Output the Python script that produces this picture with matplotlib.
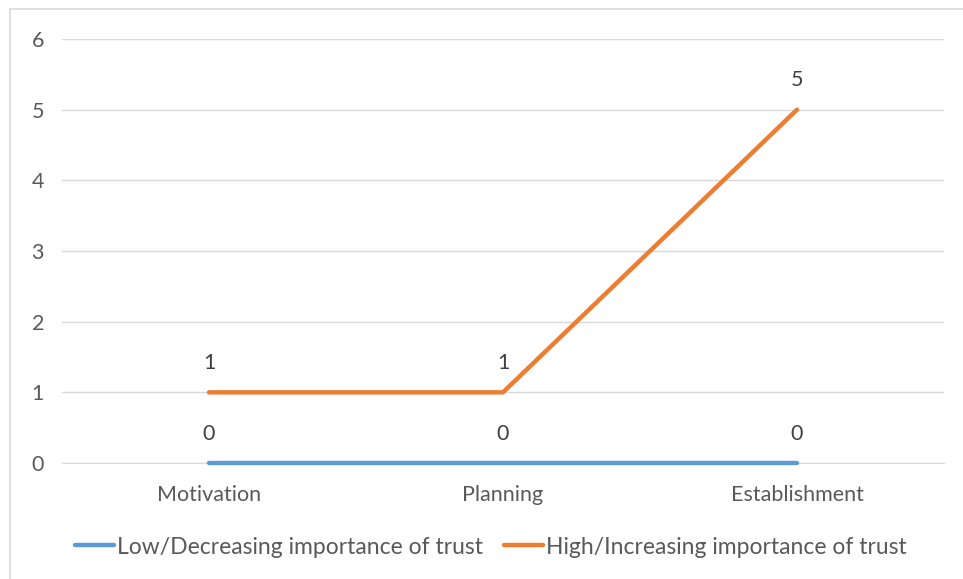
import matplotlib.pyplot as plt
from matplotlib.lines import Line2D

plt.rcParams['font.family'] = ['Lato', 'DejaVu Sans']

stages = ['Motivation', 'Planning', 'Establishment']
low_trust = [0, 0, 0]
high_trust = [1, 1, 5]
series_names = ['Low/Decreasing importance of trust',
                'High/Increasing importance of trust']

blue = '#5B9BD5'
orange = '#ED7D31'
text_col = '#595959'
grid_col = '#D9D9D9'
fs = 15.5

fig = plt.figure(figsize=(9.63, 5.79), dpi=100)
ax = fig.add_axes([62 / 963, 116 / 579, 882 / 963, 424 / 579])

x = range(len(stages))
ax.plot(x, low_trust, color=blue, lw=3.2, solid_capstyle='round', zorder=3, clip_on=False)
ax.plot(x, high_trust, color=orange, lw=3.2, solid_capstyle='round',
        solid_joinstyle='round', zorder=3, clip_on=False)

# value labels above each point
for ys in (low_trust, high_trust):
    for xi, yi in zip(x, ys):
        ax.annotate(str(yi), (xi, yi), xytext=(0, 14), textcoords='offset points',
                    ha='center', va='bottom', fontsize=fs, color='#404040')

ax.set_xlim(-0.5, len(stages) - 0.5)
ax.set_ylim(0, 6)
ax.set_yticks(range(0, 7))
ax.set_xticks(list(x))
ax.set_xticklabels(stages)
ax.tick_params(axis='both', length=0, labelsize=fs, colors=text_col)
ax.tick_params(axis='y', pad=13)
ax.tick_params(axis='x', pad=16)
ax.yaxis.grid(True, color=grid_col, lw=1)
ax.set_axisbelow(True)
for s in ax.spines.values():
    s.set_visible(False)
ax.spines['bottom'].set_visible(True)
ax.spines['bottom'].set_color(grid_col)

handles = [Line2D([], [], color=blue, lw=3.2, solid_capstyle='round'),
           Line2D([], [], color=orange, lw=3.2, solid_capstyle='round')]
fig.legend(handles, series_names, loc='center', bbox_to_anchor=(491 / 963, 1 - 547 / 579),
           ncol=2, frameon=False, fontsize=16.5, handlelength=1.7, handletextpad=0.15,
           columnspacing=0.9, labelcolor=text_col)

# chart area border (top and left edges)
fig.add_artist(Line2D([10 / 963, 10 / 963], [0, 1 - 9 / 579], color=grid_col, lw=1.2,
                      transform=fig.transFigure))
fig.add_artist(Line2D([10 / 963, 1], [1 - 9 / 579, 1 - 9 / 579], color=grid_col, lw=1.2,
                      transform=fig.transFigure))

fig.savefig('out.png', dpi=100)
